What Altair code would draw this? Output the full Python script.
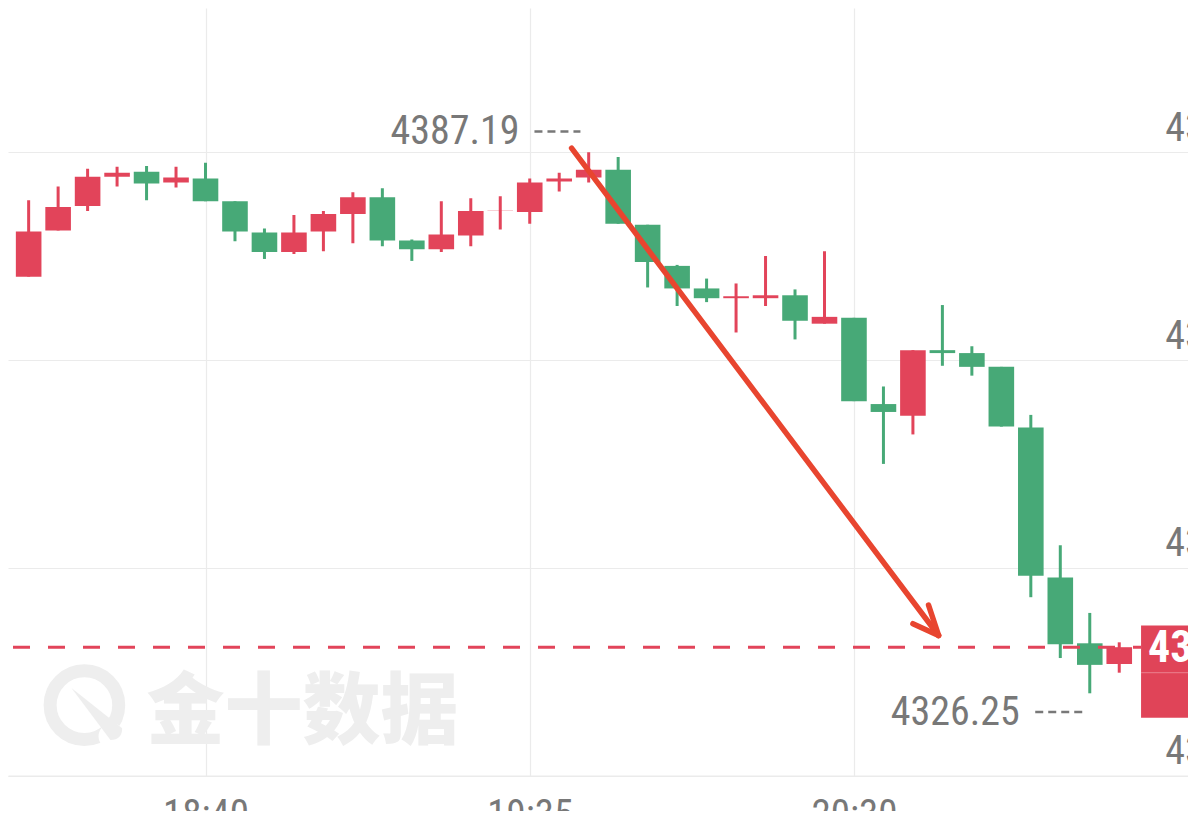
import altair as alt
import pandas as pd

# ---- 5-minute candles (18:10 ... 21:15) ----
opens = [4373.17, 4378.36, 4381.12, 4384.43, 4384.98, 4383.77, 4384.21, 4381.67, 4378.14, 4375.93,
         4378.25, 4380.23, 4382.11, 4377.25, 4376.26, 4377.81, 4380.57, 4380.46, 4383.88, 4384.32,
         4385.20, 4379.02, 4374.38, 4371.84, 4370.74, 4370.74, 4371.07, 4367.87, 4368.53, 4358.82,
         4357.49, 4364.89, 4364.56, 4363.01, 4356.17, 4339.28, 4331.88, 4329.55]
closes = [4378.25, 4381.01, 4384.43, 4384.87, 4383.66, 4384.32, 4381.67, 4378.25, 4375.93, 4378.14,
          4380.23, 4382.11, 4377.25, 4376.26, 4377.92, 4380.57, 4380.60, 4383.77, 4384.21, 4385.20,
          4379.13, 4374.83, 4371.84, 4370.74, 4370.96, 4371.07, 4368.20, 4368.64, 4359.15, 4357.93,
          4364.89, 4364.56, 4363.01, 4356.28, 4339.50, 4331.77, 4329.45, 4331.44]
highs = [4381.78, 4383.33, 4385.31, 4385.53, 4385.64, 4385.53, 4385.98, 4381.67, 4378.58, 4380.12,
         4380.57, 4382.66, 4383.11, 4377.36, 4381.67, 4382.00, 4382.22, 4384.21, 4384.87, 4387.19,
         4386.64, 4379.02, 4374.49, 4372.95, 4372.40, 4375.49, 4371.73, 4376.04, 4368.53, 4360.80,
         4364.89, 4369.97, 4365.33, 4363.01, 4357.60, 4342.92, 4335.30, 4331.99]
lows = [4373.17, 4378.36, 4380.57, 4383.33, 4381.78, 4383.22, 4381.67, 4377.14, 4375.16, 4375.71,
        4376.04, 4376.92, 4376.59, 4374.94, 4375.93, 4376.59, 4378.47, 4379.13, 4382.77, 4383.77,
        4379.13, 4371.95, 4369.86, 4370.30, 4366.88, 4369.86, 4366.10, 4367.87, 4359.15, 4352.08,
        4355.40, 4363.13, 4362.02, 4356.28, 4337.07, 4330.22, 4326.25, 4328.57]

tick_idx = [6, 17, 28]
tick_labels = ["18:40", "19:35", "20:30"]
price_grid = [4316.97, 4340.38, 4363.78, 4387.19]
last_price = closes[-1]
watermark_text = "金十数据"

# ---- styles / layout ----
RED = "#E2445A"
GREEN = "#47A977"
ARROW = "#E8452F"
GRID = "#EBEBEB"
TXT = "#787878"
WM = "#EEEEEE"
FONT = "Liberation Sans Narrow, Roboto Condensed, Roboto, sans-serif"

W = 1180
H = 767.7
PB = 35.3
SX = W / 1196
SY = 803 / 819

X_DOM = [-0.531, 39.163]
Y_DOM = [4316.97, 4403.42]
xs = alt.Scale(domain=X_DOM, nice=False, zero=False)
ys = alt.Scale(domain=Y_DOM, nice=False, zero=False)

label_expr = " : ".join(f"datum.value == {v} ? '{t}'" for v, t in zip(tick_idx, tick_labels)) + " : ''"

xaxis = alt.Axis(values=tick_idx, labelExpr=label_expr, title=None, grid=True, gridColor=GRID,
                 gridWidth=1.2, domain=True, domainColor=GRID, domainWidth=1.5, ticks=False,
                 labelFont=FONT, labelFontSize=39, labelColor=TXT, labelPadding=20.0,
                 labelBaseline="top", labelFlush=False, labelOverlap=False)
yaxis = alt.Axis(orient="right", values=price_grid, format=".2f", title=None, grid=True,
                 gridColor=GRID, gridWidth=1.2, domain=False, ticks=False, labelFont=FONT,
                 labelFontSize=40, labelColor=TXT, labelAlign="left", labelBaseline="alphabetic",
                 labelOffset=-12.0, labelPadding=0, offset=-23.2, labelFlush=False,
                 labelOverlap=False)


def X(f):
    return alt.X(f, type="quantitative", scale=xs, axis=xaxis)


def Y(f):
    return alt.Y(f, type="quantitative", scale=ys, axis=yaxis)


df = pd.DataFrame({"i": list(range(len(opens))), "open": opens, "close": closes,
                   "high": highs, "low": lows})
df["dir"] = ["up" if c > o else "down" for o, c in zip(opens, closes)]
df["lo"] = df[["open", "close"]].min(axis=1)
df["hi"] = df[["open", "close"]].max(axis=1)

color = alt.Color("dir:N", scale=alt.Scale(domain=["up", "down"], range=[RED, GREEN]), legend=None)

wicks = alt.Chart(df).mark_rule(strokeWidth=3, clip=True).encode(
    x=X("i"), y=Y("low"), y2="high", color=color)
bodies = alt.Chart(df).mark_bar(size=25.6, clip=True).encode(
    x=X("i"), y=Y("lo"), y2="hi", color=color)

# ---- watermark (logo + text) ----
wm_ring = alt.Chart(pd.DataFrame({"x": [1.892], "y": [4324.92]})).mark_point(
    shape="circle", filled=False, size=4706, strokeWidth=13, color=WM, opacity=1, clip=True
).encode(x=X("x"), y=Y("y"))
wm_gap = alt.Chart(pd.DataFrame({"x": [2.82], "y": [4321.4]})).mark_point(
    shape="circle", filled=True, size=700, color="white", opacity=1, clip=True
).encode(x=X("x"), y=Y("y"))
wm_leaf = alt.Chart(pd.DataFrame({"x": [2.29], "y": [4323.93]})).mark_point(
    shape="M -0.95 -1 L 1 0.55 Q 1 1 0.55 1 Z", filled=True, size=2704, color=WM, opacity=1,
    clip=True
).encode(x=X("x"), y=Y("y"))
wm_text = alt.Chart(pd.DataFrame({"x": [4.0], "y": [4321.2], "t": [watermark_text]})).mark_text(
    font="Noto Sans CJK SC", fontSize=78, fontWeight=900, color=WM, align="left",
    baseline="alphabetic", clip=True
).encode(x=X("x"), y=Y("y"), text="t:N")

# ---- current price line and tag ----
TAG_LEFT = 37.74
price_line = alt.Chart(pd.DataFrame({"x": [X_DOM[0]], "x2": [TAG_LEFT], "y": [last_price]})).mark_rule(
    color=RED, strokeWidth=3, strokeDash=[17, 18], clip=True
).encode(x=X("x"), x2="x2", y=Y("y"))
tag_box = alt.Chart(pd.DataFrame({"x": [TAG_LEFT], "x2": [41], "y": [4333.87], "y2": [4323.49]})).mark_rect(
    color="#E04458", clip=True
).encode(x=X("x"), x2="x2", y=Y("y"), y2="y2")
tag_sep = alt.Chart(pd.DataFrame({"x": [TAG_LEFT], "x2": [41], "y": [4328.57]})).mark_rule(
    color="#EC7F8E", strokeWidth=1, clip=True
).encode(x=X("x"), x2="x2", y=Y("y"))
tag_text = alt.Chart(pd.DataFrame({"x": [TAG_LEFT], "y": [last_price], "t": [f"{last_price:.2f}"]})).mark_text(
    font=FONT, fontSize=44, fontWeight="bold", color="white", align="left", baseline="alphabetic",
    dx=7 * SX, dy=15 * SY, clip=True
).encode(x=X("x"), y=Y("y"), text="t:N")

# ---- high / low markers ----
hi_i = highs.index(max(highs))
lo_i = lows.index(min(lows))
hi_lbl = alt.Chart(pd.DataFrame({"x": [hi_i], "y": [max(highs)], "t": [f"{max(highs):.2f}"]})).mark_text(
    font=FONT, fontSize=40, color=TXT, align="right", baseline="alphabetic",
    dx=-70 * SX, dy=-8 * SY, clip=True
).encode(x=X("x"), y=Y("y"), text="t:N")
lo_lbl = alt.Chart(pd.DataFrame({"x": [lo_i], "y": [min(lows)], "t": [f"{min(lows):.2f}"]})).mark_text(
    font=FONT, fontSize=40, color=TXT, align="right", baseline="alphabetic",
    dx=-71 * SX, dy=32 * SY, clip=True
).encode(x=X("x"), y=Y("y"), text="t:N")
marker_dash = pd.DataFrame({
    "x": [17.16, 34.15], "x2": [18.72, 35.81], "y": [4389.51, 4324.15],
})
dashes = alt.Chart(marker_dash).mark_rule(
    color=TXT, strokeWidth=2.5, strokeDash=[8, 5], clip=True
).encode(x=X("x"), x2="x2", y=Y("y"))

# ---- hand-drawn red arrow ----
arrow_df = pd.DataFrame({
    "x": [18.42, 30.53, 30.00],
    "y": [4387.63, 4336.19, 4334.09],
    "x2": [30.87, 30.87, 30.87],
    "y2": [4332.76, 4332.76, 4332.76],
})
arrow = alt.Chart(arrow_df).mark_rule(color=ARROW, strokeWidth=5.5, strokeCap="round", clip=True).encode(
    x=X("x"), y=Y("y"), x2="x2", y2="y2")

chart = alt.layer(
    wm_ring, wm_gap, wm_leaf, wm_text,
    wicks, bodies, price_line, arrow, hi_lbl, lo_lbl, dashes, tag_box, tag_sep, tag_text
).properties(
    width=W, height=H,
    autosize=alt.AutoSizeParams(type="none"),
    padding={"left": 0, "top": 0, "right": 0, "bottom": PB},
    background="white",
).configure_view(strokeWidth=0)

chart.save("out.html", embed_options={"renderer": "svg", "actions": False})
